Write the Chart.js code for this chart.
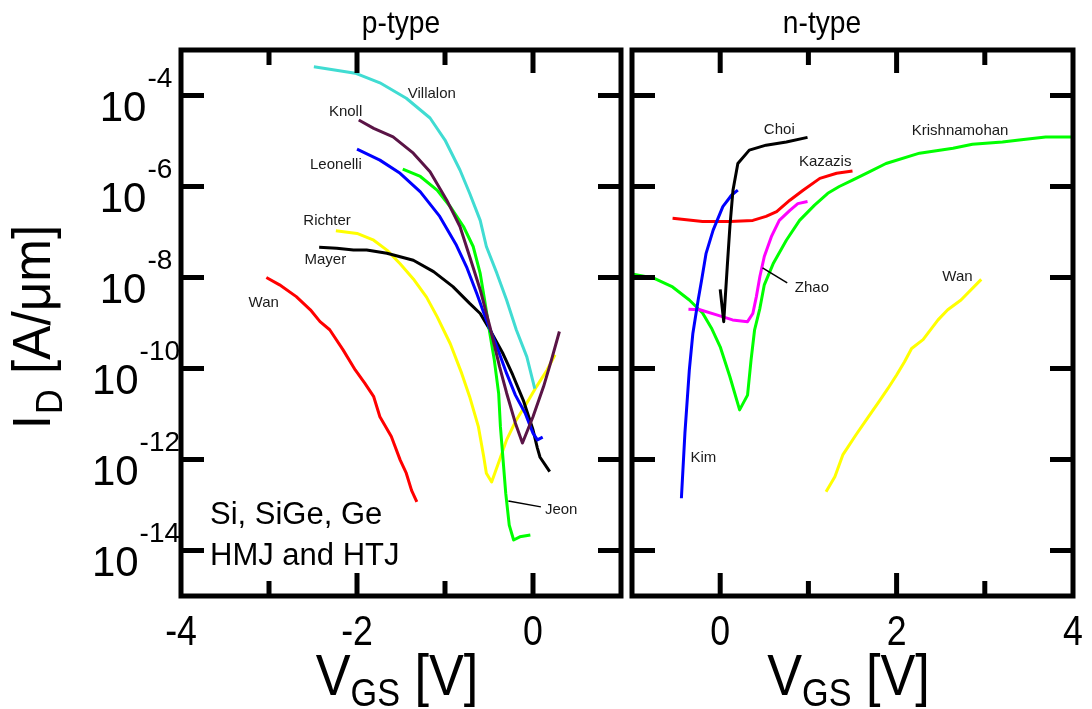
<!DOCTYPE html>
<html>
<head>
<meta charset="utf-8">
<script src="https://cdn.jsdelivr.net/npm/chart.js@4.4.1/dist/chart.umd.min.js"></script>
<style>
  html, body { margin: 0; padding: 0; background: #ffffff; }
  #wrap { position: relative; width: 1092px; height: 709px; overflow: hidden; }
  canvas { position: absolute; top: 0; }
  #pChart { left: 0; }
  #nChart { left: 627px; }
</style>
</head>
<body>
<div id="wrap">
  <canvas id="pChart" width="627" height="709"></canvas>
  <canvas id="nChart" width="465" height="709"></canvas>
</div>
<script>
// ---------- axes ----------
const yTicks = [1e-14, 1e-12, 1e-10, 1e-8, 1e-6, 1e-4];
const yTickExp = ['-14', '-12', '-10', '-8', '-6', '-4'];
const pXTicks = [-3, -2, -1, 0];
const pXMajor = [-2, 0];
const pXLabels = [-4, -2, 0];
const nXTicks = [0, 1, 2, 3];
const nXMajor = [0, 2];
const nXLabels = [0, 2, 4];

// ---------- p-type devices: VGS [V], ID [A/um] ----------
const villalonV = [-2.49, -2.02, -1.74, -1.44, -1.17, -1.00, -0.83, -0.72, -0.60, -0.53, -0.41, -0.30, -0.19, -0.07, 0.02];
const villalonI = [4.3e-4, 3.1e-4, 1.9e-4, 8.7e-5, 3.2e-5, 1.05e-5, 2.3e-6, 7.1e-7, 1.8e-7, 4.8e-8, 1.23e-8, 3.2e-9, 7.1e-10, 1.8e-10, 3.6e-11];

const knollV = [-1.98, -1.81, -1.59, -1.36, -1.17, -0.98, -0.83, -0.72, -0.60, -0.49, -0.38, -0.30, -0.20, -0.12, 0.00, 0.12, 0.21, 0.30];
const knollI = [2.9e-5, 1.9e-5, 1.23e-5, 5.4e-6, 2.1e-6, 5.0e-7, 1.32e-7, 2.9e-8, 5.4e-9, 8.3e-10, 1.1e-10, 2.9e-11, 6.3e-12, 2.3e-12, 8.7e-12, 4.0e-11, 1.55e-10, 6.5e-10];

const leonelliV = [-2.00, -1.74, -1.51, -1.28, -1.06, -0.87, -0.75, -0.64, -0.53, -0.41, -0.30, -0.20, -0.09, 0.00, 0.05, 0.11];
const leonelliI = [6.6e-6, 3.8e-6, 1.95e-6, 7.6e-7, 2.2e-7, 5.1e-8, 1.62e-8, 4.5e-9, 1.17e-9, 3.0e-10, 7.8e-11, 2.6e-11, 1.05e-11, 3.8e-12, 2.7e-12, 3.1e-12];

const jeonV = [-1.48, -1.28, -1.09, -0.94, -0.79, -0.68, -0.60, -0.55, -0.49, -0.44, -0.39, -0.37, -0.34, -0.31, -0.27, -0.22, -0.15, -0.03];
const jeonI = [2.4e-6, 1.66e-6, 8.3e-7, 3.6e-7, 1.32e-7, 4.8e-8, 1.23e-8, 3.2e-9, 5.9e-10, 1.55e-10, 2.8e-11, 5.2e-12, 9.8e-13, 1.82e-13, 3.6e-14, 1.7e-14, 2.0e-14, 2.2e-14];

const mayerV = [-2.43, -2.23, -2.04, -1.89, -1.66, -1.36, -1.13, -0.91, -0.72, -0.60, -0.49, -0.34, -0.23, -0.11, 0.00, 0.05, 0.08, 0.19];
const mayerI = [4.6e-8, 4.4e-8, 4.0e-8, 4.0e-8, 3.4e-8, 2.4e-8, 1.35e-8, 6.3e-9, 2.7e-9, 1.62e-9, 7.1e-10, 2.1e-10, 7.2e-11, 2.0e-11, 4.5e-12, 1.78e-12, 1.12e-12, 5.4e-13];

const richterV = [-2.24, -2.00, -1.81, -1.66, -1.51, -1.36, -1.21, -1.09, -0.94, -0.81, -0.72, -0.62, -0.56, -0.53, -0.47, -0.38, -0.30, -0.19, -0.07, 0.04, 0.16, 0.25];
const richterI = [1.07e-7, 9.3e-8, 6.6e-8, 4.0e-8, 2.0e-8, 9.3e-9, 3.7e-9, 1.38e-9, 3.5e-10, 7.8e-11, 2.4e-11, 5.2e-12, 1.15e-12, 5.0e-13, 3.2e-13, 9.8e-13, 2.7e-12, 7.4e-12, 1.74e-11, 4.0e-11, 9.3e-11, 2.0e-10];

const wanPV = [-3.03, -2.88, -2.69, -2.53, -2.42, -2.31, -2.16, -2.02, -1.91, -1.81, -1.74, -1.61, -1.51, -1.44, -1.38, -1.32];
const wanPI = [1.0e-8, 6.9e-9, 3.8e-9, 1.95e-9, 1.07e-9, 7.1e-10, 2.6e-10, 9.3e-11, 4.7e-11, 2.4e-11, 8.7e-12, 3.2e-12, 9.8e-13, 5.0e-13, 2.1e-13, 1.17e-13];

// ---------- n-type devices ----------
const krishV = [-1.00, -0.76, -0.54, -0.35, -0.20, -0.10, 0.00, 0.11, 0.22, 0.31, 0.35, 0.39, 0.45, 0.50, 0.60, 0.75, 0.90, 1.07, 1.22, 1.35, 1.50, 1.69, 1.88, 2.26, 2.64, 2.86, 3.20, 3.39, 3.69, 4.00];
const krishI = [1.2e-8, 9.8e-9, 6.2e-9, 3.2e-9, 1.66e-9, 7.8e-10, 3.0e-10, 6.6e-11, 1.23e-11, 2.6e-11, 1.55e-10, 7.1e-10, 2.1e-9, 6.9e-9, 2.0e-8, 6.6e-8, 1.8e-7, 3.9e-7, 7.1e-7, 1.0e-6, 1.38e-6, 2.1e-6, 3.2e-6, 5.4e-6, 6.9e-6, 8.5e-6, 9.5e-6, 1.05e-5, 1.23e-5, 1.23e-5];

const kazazisV = [-0.54, -0.20, 0.11, 0.37, 0.52, 0.64, 0.79, 0.94, 1.13, 1.32, 1.50];
const kazazisI = [2.0e-7, 1.7e-7, 1.7e-7, 1.8e-7, 2.2e-7, 2.8e-7, 5.0e-7, 8.3e-7, 1.51e-6, 1.95e-6, 2.2e-6];

const zhaoV = [-0.36, -0.23, -0.04, 0.14, 0.31, 0.37, 0.41, 0.45, 0.50, 0.58, 0.67, 0.79, 0.88, 0.99];
const zhaoI = [2.0e-9, 1.95e-9, 1.51e-9, 1.17e-9, 1.07e-9, 1.62e-9, 3.8e-9, 1.05e-8, 2.9e-8, 7.9e-8, 1.8e-7, 3.0e-7, 4.2e-7, 4.7e-7];

const kimV = [-0.44, -0.40, -0.37, -0.35, -0.31, -0.25, -0.21, -0.16, -0.08, 0.03, 0.13, 0.20];
const kimI = [1.41e-13, 3.8e-12, 2.6e-11, 9.3e-11, 5.9e-10, 3.2e-9, 8.9e-9, 3.4e-8, 1.1e-7, 3.6e-7, 6.5e-7, 8.3e-7];

const choiV = [0.00, 0.04, 0.08, 0.11, 0.145, 0.20, 0.33, 0.52, 0.75, 0.99];
const choiI = [5.5e-9, 1.07e-9, 1.74e-8, 1.32e-7, 8.3e-7, 3.2e-6, 6.3e-6, 8.1e-6, 9.5e-6, 1.2e-5];

const wanNV = [1.20, 1.30, 1.39, 1.54, 1.67, 1.81, 1.90, 2.00, 2.09, 2.17, 2.30, 2.47, 2.58, 2.73, 2.96];
const wanNI = [1.95e-13, 4.2e-13, 1.26e-12, 3.5e-12, 8.1e-12, 2.0e-11, 3.6e-11, 7.2e-11, 1.41e-10, 2.75e-10, 4.3e-10, 1.17e-9, 1.95e-9, 3.2e-9, 9.1e-9];

// ---------- curve names placed at (VGS, ID) ----------
const pNotes = [
  { text: 'Villalon', x: -1.15, y: 1.1e-4 },
  { text: 'Knoll', x: -2.13, y: 4.4e-5 },
  { text: 'Leonelli', x: -2.24, y: 3.0e-6 },
  { text: 'Richter', x: -2.34, y: 1.74e-7 },
  { text: 'Mayer', x: -2.36, y: 2.4e-8 },
  { text: 'Wan', x: -3.06, y: 2.75e-9 },
  { text: 'Jeon', x: 0.32, y: 7.8e-14, from: [-0.28, 1.23e-13], to: [0.09, 9.1e-14] }
];
const nNotes = [
  { text: 'Choi', x: 0.67, y: 1.74e-5 },
  { text: 'Kazazis', x: 1.19, y: 3.5e-6 },
  { text: 'Krishnamohan', x: 2.72, y: 1.66e-5 },
  { text: 'Zhao', x: 1.04, y: 5.9e-9, from: [0.48, 1.62e-8], to: [0.76, 7.6e-9] },
  { text: 'Wan', x: 2.69, y: 1.02e-8 },
  { text: 'Kim', x: -0.19, y: 1.07e-12 }
];

const FONT = "'Liberation Sans', Arial, Helvetica, sans-serif";

function series(vs, is, color) {
  return {
    data: vs.map((v, i) => ({ x: v, y: is[i] })),
    showLine: true,
    borderColor: color,
    backgroundColor: color,
    borderWidth: 3,
    pointRadius: 0,
    pointHoverRadius: 0,
    tension: 0,
    fill: false,
    borderJoinStyle: 'round'
  };
}

// text with an optional horizontal squeeze, as used for the axis lettering
function narrowText(ctx, s, x, y, size, align, sx) {
  ctx.save();
  ctx.font = size + 'px ' + FONT;
  ctx.translate(x, y);
  ctx.scale(sx, 1);
  ctx.textAlign = align;
  ctx.textBaseline = 'alphabetic';
  ctx.fillText(s, 0, 0);
  ctx.restore();
}
function narrowWidth(ctx, s, size, sx) {
  ctx.save();
  ctx.font = size + 'px ' + FONT;
  const w = ctx.measureText(s).width * sx;
  ctx.restore();
  return w;
}
function seg(ctx, x1, y1, x2, y2) {
  ctx.beginPath(); ctx.moveTo(x1, y1); ctx.lineTo(x2, y2); ctx.stroke();
}

function framePlugin(cfg) {
  return {
    id: 'frame',
    afterDatasetsDraw(chart) {
      const ctx = chart.ctx;
      const a = chart.chartArea;
      const xs = chart.scales.x, ys = chart.scales.y;
      ctx.save();
      ctx.strokeStyle = '#000';
      ctx.fillStyle = '#000';
      ctx.lineWidth = 5;
      ctx.lineCap = 'butt';
      ctx.lineJoin = 'miter';
      ctx.strokeRect(a.left, a.top, a.right - a.left, a.bottom - a.top);

      // inward ticks on all four sides
      yTicks.forEach(v => {
        const y = ys.getPixelForValue(v);
        seg(ctx, a.left, y, a.left + 23, y);
        seg(ctx, a.right - 23, y, a.right, y);
      });
      cfg.xTicks.forEach(v => {
        const x = xs.getPixelForValue(v);
        const len = cfg.xMajor.includes(v) ? 23 : 15;
        seg(ctx, x, a.bottom, x, a.bottom - len);
        seg(ctx, x, a.top, x, a.top + len);
      });

      // x tick labels
      cfg.xLabels.forEach(v => {
        narrowText(ctx, String(v), xs.getPixelForValue(v), a.bottom + 49, 42, 'center', 0.85);
      });

      // y tick labels 10^n
      if (cfg.yLabels) {
        yTicks.forEach((v, i) => {
          const y = ys.getPixelForValue(v);
          const wBase = narrowWidth(ctx, '10', 42, 1);
          const wExp = narrowWidth(ctx, yTickExp[i], 28, 1);
          const left = 136 - (wBase + wExp + 1) / 2;
          narrowText(ctx, '10', left, y + 25, 42, 'left', 1);
          narrowText(ctx, yTickExp[i], left + wBase + 1, y - 9, 28, 'left', 1);
        });
        // y axis title
        ctx.save();
        ctx.translate(50, (a.top + a.bottom) / 2 + 5);
        ctx.rotate(-Math.PI / 2);
        const wI = narrowWidth(ctx, 'I', 54, 0.95);
        const wD = narrowWidth(ctx, 'D', 36, 0.95);
        const wR = narrowWidth(ctx, ' [A/\u03BCm]', 54, 0.95);
        const x0 = -(wI + wD + wR) / 2;
        narrowText(ctx, 'I', x0, 0, 54, 'left', 0.95);
        narrowText(ctx, 'D', x0 + wI + 1, 12, 36, 'left', 0.95);
        narrowText(ctx, ' [A/\u03BCm]', x0 + wI + wD + 2, 0, 54, 'left', 0.95);
        ctx.restore();
      }

      // x axis title V_GS [V]
      {
        const cx = (a.left + a.right) / 2 - 4;
        const wV = narrowWidth(ctx, 'V', 58, 0.9);
        const wG = narrowWidth(ctx, 'GS', 38, 0.9);
        const wR = narrowWidth(ctx, ' [V]', 58, 0.9);
        const x0 = cx - (wV + wG + wR) / 2;
        narrowText(ctx, 'V', x0, 695, 58, 'left', 0.9);
        narrowText(ctx, 'GS', x0 + wV, 706, 38, 'left', 0.9);
        narrowText(ctx, ' [V]', x0 + wV + wG, 695, 58, 'left', 0.9);
      }

      // panel title
      narrowText(ctx, cfg.title, cfg.titleX, 33, 32, 'center', 0.88);

      // curve names
      ctx.font = '15px ' + FONT;
      ctx.fillStyle = '#1a1a1a';
      ctx.textAlign = 'center';
      ctx.textBaseline = 'middle';
      cfg.notes.forEach(n => {
        ctx.fillText(n.text, xs.getPixelForValue(n.x), ys.getPixelForValue(n.y));
        if (n.from) {
          ctx.lineWidth = 1.5;
          ctx.strokeStyle = '#000';
          seg(ctx, xs.getPixelForValue(n.from[0]), ys.getPixelForValue(n.from[1]),
                   xs.getPixelForValue(n.to[0]), ys.getPixelForValue(n.to[1]));
        }
      });

      // material note
      if (cfg.box) {
        ctx.font = '31px ' + FONT;
        ctx.fillStyle = '#000';
        ctx.textAlign = 'left';
        ctx.textBaseline = 'alphabetic';
        ctx.fillText(cfg.box[0], a.left + 29, a.bottom - 72);
        ctx.fillText(cfg.box[1], a.left + 29, a.bottom - 31);
      }
      ctx.restore();
    }
  };
}

function makeChart(id, datasets, xmin, xmax, padding, cfg) {
  datasets.forEach((d, i) => { d.order = datasets.length - i; });
  return new Chart(document.getElementById(id), {
    type: 'scatter',
    data: { datasets },
    options: {
      responsive: false,
      devicePixelRatio: 1,
      animation: false,
      events: [],
      layout: { padding },
      plugins: { legend: { display: false }, tooltip: { enabled: false }, title: { display: false } },
      scales: {
        x: { type: 'linear', min: xmin, max: xmax, display: false },
        y: { type: 'logarithmic', min: 1e-15, max: 1e-3, display: false }
      }
    },
    plugins: [framePlugin(cfg)]
  });
}

makeChart('pChart', [
  series(wanPV, wanPI, '#ff0000'),
  series(richterV, richterI, '#ffff00'),
  series(mayerV, mayerI, '#000000'),
  series(jeonV, jeonI, '#00ff00'),
  series(leonelliV, leonelliI, '#0000ff'),
  series(villalonV, villalonI, '#40dcd2'),
  series(knollV, knollI, '#5a1446')
], -4, 1, { left: 181, top: 50, right: 6, bottom: 113 }, {
  xTicks: pXTicks, xMajor: pXMajor, xLabels: pXLabels, yLabels: true,
  title: 'p-type', titleX: 401, notes: pNotes, box: ['Si, SiGe, Ge', 'HMJ and HTJ']
});

makeChart('nChart', [
  series(krishV, krishI, '#00ff00'),
  series(kazazisV, kazazisI, '#ff0000'),
  series(zhaoV, zhaoI, '#ff00ff'),
  series(kimV, kimI, '#0000ff'),
  series(choiV, choiI, '#000000'),
  series(wanNV, wanNI, '#ffff00')
], -1, 4, { left: 5, top: 50, right: 19, bottom: 113 }, {
  xTicks: nXTicks, xMajor: nXMajor, xLabels: nXLabels, yLabels: false,
  title: 'n-type', titleX: 195, notes: nNotes, box: null
});
</script>
</body>
</html>
